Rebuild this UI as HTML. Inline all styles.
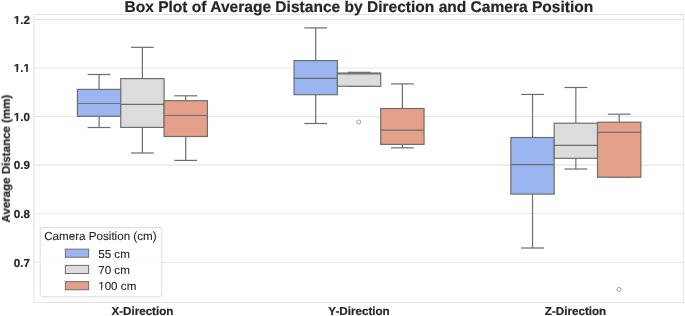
<!DOCTYPE html>
<html><head><meta charset="utf-8"><title>Box Plot</title>
<style>html,body{margin:0;padding:0;background:#fff;} svg{display:block;} text{will-change:transform;text-rendering:geometricPrecision;}</style>
</head><body>
<svg width="685" height="316" viewBox="0 0 685 316">
<rect x="0" y="0" width="685" height="316" fill="#ffffff"/>
<line x1="34.0" y1="19.4" x2="683.75" y2="19.4" stroke="#e5e5e5" stroke-width="1.1"/>
<line x1="34.0" y1="68.0" x2="683.75" y2="68.0" stroke="#e5e5e5" stroke-width="1.1"/>
<line x1="34.0" y1="116.5" x2="683.75" y2="116.5" stroke="#e5e5e5" stroke-width="1.1"/>
<line x1="34.0" y1="165.1" x2="683.75" y2="165.1" stroke="#e5e5e5" stroke-width="1.1"/>
<line x1="34.0" y1="213.7" x2="683.75" y2="213.7" stroke="#e5e5e5" stroke-width="1.1"/>
<line x1="34.0" y1="262.3" x2="683.75" y2="262.3" stroke="#e5e5e5" stroke-width="1.1"/>
<line x1="99.07" y1="74.5" x2="99.07" y2="89.4" stroke="#6e6e6e" stroke-width="1.2"/>
<line x1="99.07" y1="116.3" x2="99.07" y2="127.5" stroke="#6e6e6e" stroke-width="1.2"/>
<line x1="88.24" y1="74.5" x2="109.90" y2="74.5" stroke="#6e6e6e" stroke-width="1.2" stroke-linecap="square"/>
<line x1="88.24" y1="127.5" x2="109.90" y2="127.5" stroke="#6e6e6e" stroke-width="1.2" stroke-linecap="square"/>
<rect x="77.41" y="89.4" width="43.33" height="26.90" fill="#9bb5f0" stroke="#6e6e6e" stroke-width="1.2" stroke-linejoin="miter"/>
<line x1="77.41" y1="103.5" x2="120.73" y2="103.5" stroke="#6e6e6e" stroke-width="1.2"/>
<line x1="142.40" y1="47.3" x2="142.40" y2="78.6" stroke="#6e6e6e" stroke-width="1.2"/>
<line x1="142.40" y1="127.4" x2="142.40" y2="153.0" stroke="#6e6e6e" stroke-width="1.2"/>
<line x1="131.57" y1="47.3" x2="153.23" y2="47.3" stroke="#6e6e6e" stroke-width="1.2" stroke-linecap="square"/>
<line x1="131.57" y1="153.0" x2="153.23" y2="153.0" stroke="#6e6e6e" stroke-width="1.2" stroke-linecap="square"/>
<rect x="120.74" y="78.6" width="43.33" height="48.80" fill="#dddcdc" stroke="#6e6e6e" stroke-width="1.2" stroke-linejoin="miter"/>
<line x1="120.74" y1="104.3" x2="164.06" y2="104.3" stroke="#6e6e6e" stroke-width="1.2"/>
<line x1="185.73" y1="95.8" x2="185.73" y2="100.7" stroke="#6e6e6e" stroke-width="1.2"/>
<line x1="185.73" y1="136.5" x2="185.73" y2="160.4" stroke="#6e6e6e" stroke-width="1.2"/>
<line x1="174.90" y1="95.8" x2="196.56" y2="95.8" stroke="#6e6e6e" stroke-width="1.2" stroke-linecap="square"/>
<line x1="174.90" y1="160.4" x2="196.56" y2="160.4" stroke="#6e6e6e" stroke-width="1.2" stroke-linecap="square"/>
<rect x="164.07" y="100.7" width="43.33" height="35.80" fill="#e5a089" stroke="#6e6e6e" stroke-width="1.2" stroke-linejoin="miter"/>
<line x1="164.07" y1="115.5" x2="207.40" y2="115.5" stroke="#6e6e6e" stroke-width="1.2"/>
<line x1="315.72" y1="27.9" x2="315.72" y2="60.6" stroke="#6e6e6e" stroke-width="1.2"/>
<line x1="315.72" y1="94.7" x2="315.72" y2="123.5" stroke="#6e6e6e" stroke-width="1.2"/>
<line x1="304.89" y1="27.9" x2="326.55" y2="27.9" stroke="#6e6e6e" stroke-width="1.2" stroke-linecap="square"/>
<line x1="304.89" y1="123.5" x2="326.55" y2="123.5" stroke="#6e6e6e" stroke-width="1.2" stroke-linecap="square"/>
<rect x="294.06" y="60.6" width="43.33" height="34.10" fill="#9bb5f0" stroke="#6e6e6e" stroke-width="1.2" stroke-linejoin="miter"/>
<line x1="294.06" y1="78.4" x2="337.38" y2="78.4" stroke="#6e6e6e" stroke-width="1.2"/>
<line x1="359.05" y1="72.3" x2="359.05" y2="73.0" stroke="#6e6e6e" stroke-width="1.2"/>
<line x1="359.05" y1="86.25" x2="359.05" y2="86.25" stroke="#6e6e6e" stroke-width="1.2"/>
<line x1="348.22" y1="72.3" x2="369.88" y2="72.3" stroke="#6e6e6e" stroke-width="1.2" stroke-linecap="square"/>
<line x1="348.22" y1="86.25" x2="369.88" y2="86.25" stroke="#6e6e6e" stroke-width="1.2" stroke-linecap="square"/>
<rect x="337.38" y="73.0" width="43.33" height="13.25" fill="#dddcdc" stroke="#6e6e6e" stroke-width="1.2" stroke-linejoin="miter"/>
<line x1="337.38" y1="73.9" x2="380.71" y2="73.9" stroke="#6e6e6e" stroke-width="1.2"/>
<circle cx="358.75" cy="122.0" r="2.05" fill="none" stroke="#6e6e6e" stroke-width="0.65"/>
<line x1="402.38" y1="83.9" x2="402.38" y2="108.5" stroke="#6e6e6e" stroke-width="1.2"/>
<line x1="402.38" y1="144.4" x2="402.38" y2="147.85" stroke="#6e6e6e" stroke-width="1.2"/>
<line x1="391.55" y1="83.9" x2="413.21" y2="83.9" stroke="#6e6e6e" stroke-width="1.2" stroke-linecap="square"/>
<line x1="391.55" y1="147.85" x2="413.21" y2="147.85" stroke="#6e6e6e" stroke-width="1.2" stroke-linecap="square"/>
<rect x="380.71" y="108.5" width="43.33" height="35.90" fill="#e5a089" stroke="#6e6e6e" stroke-width="1.2" stroke-linejoin="miter"/>
<line x1="380.71" y1="130.1" x2="424.04" y2="130.1" stroke="#6e6e6e" stroke-width="1.2"/>
<line x1="532.52" y1="94.45" x2="532.52" y2="137.5" stroke="#6e6e6e" stroke-width="1.2"/>
<line x1="532.52" y1="194.1" x2="532.52" y2="248.0" stroke="#6e6e6e" stroke-width="1.2"/>
<line x1="521.69" y1="94.45" x2="543.35" y2="94.45" stroke="#6e6e6e" stroke-width="1.2" stroke-linecap="square"/>
<line x1="521.69" y1="248.0" x2="543.35" y2="248.0" stroke="#6e6e6e" stroke-width="1.2" stroke-linecap="square"/>
<rect x="510.85" y="137.5" width="43.33" height="56.60" fill="#9bb5f0" stroke="#6e6e6e" stroke-width="1.2" stroke-linejoin="miter"/>
<line x1="510.85" y1="164.7" x2="554.18" y2="164.7" stroke="#6e6e6e" stroke-width="1.2"/>
<line x1="575.85" y1="87.5" x2="575.85" y2="123.2" stroke="#6e6e6e" stroke-width="1.2"/>
<line x1="575.85" y1="158.3" x2="575.85" y2="169.0" stroke="#6e6e6e" stroke-width="1.2"/>
<line x1="565.02" y1="87.5" x2="586.68" y2="87.5" stroke="#6e6e6e" stroke-width="1.2" stroke-linecap="square"/>
<line x1="565.02" y1="169.0" x2="586.68" y2="169.0" stroke="#6e6e6e" stroke-width="1.2" stroke-linecap="square"/>
<rect x="554.19" y="123.2" width="43.33" height="35.10" fill="#dddcdc" stroke="#6e6e6e" stroke-width="1.2" stroke-linejoin="miter"/>
<line x1="554.19" y1="145.45" x2="597.52" y2="145.45" stroke="#6e6e6e" stroke-width="1.2"/>
<line x1="619.18" y1="114.2" x2="619.18" y2="122.25" stroke="#6e6e6e" stroke-width="1.2"/>
<line x1="619.18" y1="177.2" x2="619.18" y2="177.2" stroke="#6e6e6e" stroke-width="1.2"/>
<line x1="608.35" y1="114.2" x2="630.01" y2="114.2" stroke="#6e6e6e" stroke-width="1.2" stroke-linecap="square"/>
<line x1="608.35" y1="177.2" x2="630.01" y2="177.2" stroke="#6e6e6e" stroke-width="1.2" stroke-linecap="square"/>
<rect x="597.52" y="122.25" width="43.33" height="54.95" fill="#e5a089" stroke="#6e6e6e" stroke-width="1.2" stroke-linejoin="miter"/>
<line x1="597.52" y1="132.4" x2="640.85" y2="132.4" stroke="#6e6e6e" stroke-width="1.2"/>
<circle cx="619.00" cy="289.45" r="2.05" fill="none" stroke="#6e6e6e" stroke-width="0.65"/>
<rect x="34.0" y="14.5" width="649.75" height="288.00" fill="none" stroke="#e2e2e2" stroke-width="1.0"/>
<text x="29.9" y="23.6" font-family="Liberation Sans, sans-serif" stroke="#262626" stroke-width="0.2" font-size="11.64" font-weight="bold" text-anchor="end" fill="#262626">1.2</text>
<rect x="14" y="22" width="2.44" height="2.4" fill="#fff"/>
<rect x="18.03" y="22" width="1.97" height="2.4" fill="#fff"/>
<text x="29.9" y="72.2" font-family="Liberation Sans, sans-serif" stroke="#262626" stroke-width="0.2" font-size="11.64" font-weight="bold" text-anchor="end" fill="#262626">1.1</text>
<rect x="14" y="70" width="2.44" height="2.4" fill="#fff"/>
<rect x="18.03" y="70" width="1.97" height="2.4" fill="#fff"/>
<rect x="24" y="70" width="2.14" height="2.4" fill="#fff"/>
<rect x="27.74" y="70" width="2.26" height="2.4" fill="#fff"/>
<text x="29.9" y="120.7" font-family="Liberation Sans, sans-serif" stroke="#262626" stroke-width="0.2" font-size="11.64" font-weight="bold" text-anchor="end" fill="#262626">1.0</text>
<rect x="14" y="119" width="2.44" height="2.4" fill="#fff"/>
<rect x="18.03" y="119" width="1.97" height="2.4" fill="#fff"/>
<text x="29.9" y="169.3" font-family="Liberation Sans, sans-serif" stroke="#262626" stroke-width="0.2" font-size="11.64" font-weight="bold" text-anchor="end" fill="#262626">0.9</text>
<text x="29.9" y="217.9" font-family="Liberation Sans, sans-serif" stroke="#262626" stroke-width="0.2" font-size="11.64" font-weight="bold" text-anchor="end" fill="#262626">0.8</text>
<text x="29.9" y="266.5" font-family="Liberation Sans, sans-serif" stroke="#262626" stroke-width="0.2" font-size="11.64" font-weight="bold" text-anchor="end" fill="#262626">0.7</text>
<text x="142.4" y="314.6" font-family="Liberation Sans, sans-serif" stroke="#262626" stroke-width="0.2" font-size="11.64" font-weight="bold" text-anchor="middle" fill="#262626">X-Direction</text>
<text x="359.05" y="314.6" font-family="Liberation Sans, sans-serif" stroke="#262626" stroke-width="0.2" font-size="11.64" font-weight="bold" text-anchor="middle" fill="#262626">Y-Direction</text>
<text x="575.55" y="314.6" font-family="Liberation Sans, sans-serif" stroke="#262626" stroke-width="0.2" font-size="11.64" font-weight="bold" text-anchor="middle" fill="#262626">Z-Direction</text>
<text transform="translate(9.9,158.6) rotate(-90)" x="0" y="0" font-family="Liberation Sans, sans-serif" stroke="#262626" stroke-width="0.2" font-size="11.56" font-weight="bold" text-anchor="middle" fill="#262626">Average Distance (mm)</text>
<text x="358.9" y="12.35" font-family="Liberation Sans, sans-serif" stroke="#262626" stroke-width="0.2" font-size="15.56" font-weight="bold" text-anchor="middle" fill="#262626">Box Plot of Average Distance by Direction and Camera Position</text>
<rect x="40.2" y="227.6" width="121.60" height="69.00" rx="2.5" ry="2.5" fill="#ffffff" fill-opacity="0.8" stroke="#e2e2e2" stroke-width="1.1"/>
<text x="44.2" y="240" font-family="Liberation Sans, sans-serif" stroke="#262626" stroke-width="0.1" font-size="11.64" fill="#262626">Camera Position (cm)</text>
<rect x="65.35" y="249.15" width="23.3" height="8.1" fill="#9bb5f0" stroke="#6e6e6e" stroke-width="1.0"/>
<text x="98.2" y="257.50" font-family="Liberation Sans, sans-serif" stroke="#262626" stroke-width="0.1" font-size="11.64" fill="#262626">55 cm</text>
<rect x="65.35" y="265.40" width="23.3" height="8.1" fill="#dddcdc" stroke="#6e6e6e" stroke-width="1.0"/>
<text x="98.2" y="273.90" font-family="Liberation Sans, sans-serif" stroke="#262626" stroke-width="0.1" font-size="11.64" fill="#262626">70 cm</text>
<rect x="65.35" y="281.65" width="23.3" height="8.1" fill="#e5a089" stroke="#6e6e6e" stroke-width="1.0"/>
<text x="98.2" y="290.30" font-family="Liberation Sans, sans-serif" stroke="#262626" stroke-width="0.1" font-size="11.64" fill="#262626">100 cm</text>
<rect x="98" y="288" width="3.13" height="2.4" fill="#fff"/>
<rect x="102.16" y="288" width="2.84" height="2.4" fill="#fff"/>
</svg>
</body></html>
